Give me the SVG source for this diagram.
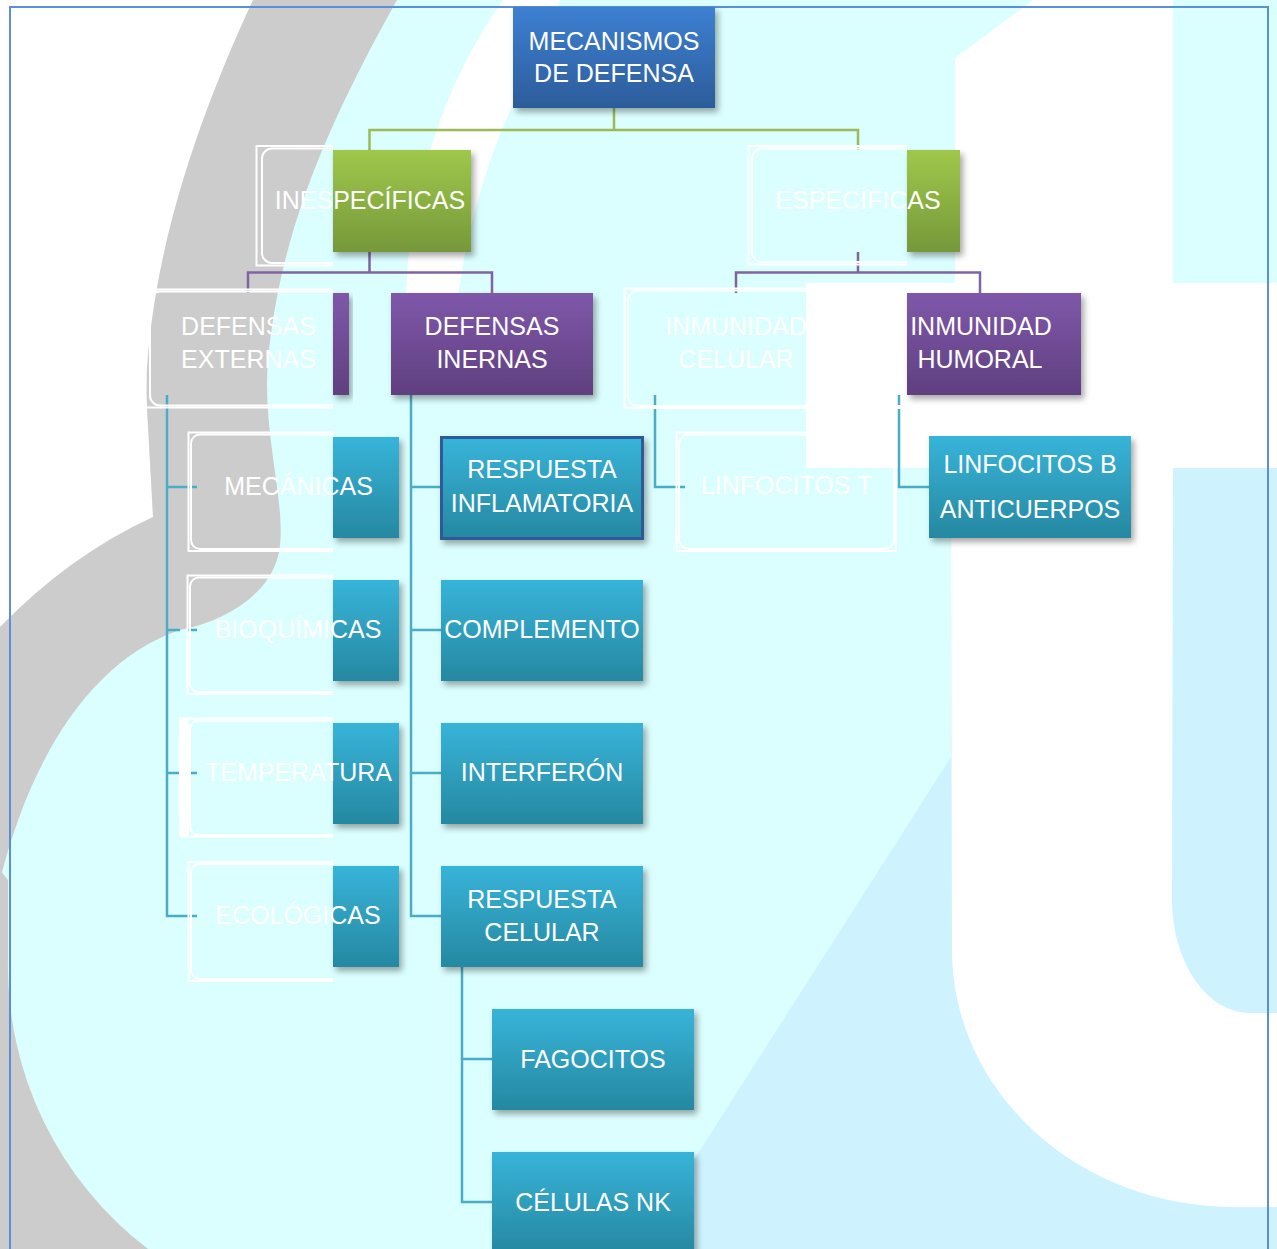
<svg xmlns="http://www.w3.org/2000/svg" width="1277" height="1249" viewBox="0 0 1277 1249">
<style>
.t{font-family:"Liberation Sans",Arial,sans-serif;font-size:25px;fill:#fff;text-anchor:middle}
.gh{fill:none;stroke:#fff;stroke-width:2}
.c{fill:none;stroke-width:2.5}
.cg{stroke:#9BBB59}
.cp{stroke:#8064A2}
.ct{stroke:#4BACC6}
</style>
<defs>
<linearGradient id="gBlue" x1="0" y1="0" x2="0" y2="1"><stop offset="0" stop-color="#3D80D2"/><stop offset="1" stop-color="#2C5C9A"/></linearGradient>
<linearGradient id="gGreen" x1="0" y1="0" x2="0" y2="1"><stop offset="0" stop-color="#9FC84A"/><stop offset="1" stop-color="#76983A"/></linearGradient>
<linearGradient id="gPurple" x1="0" y1="0" x2="0" y2="1"><stop offset="0" stop-color="#7F58AA"/><stop offset="1" stop-color="#603F7F"/></linearGradient>
<linearGradient id="gTeal" x1="0" y1="0" x2="0" y2="1"><stop offset="0" stop-color="#37B4D9"/><stop offset="1" stop-color="#2688A1"/></linearGradient>
<filter id="sh" x="-10%" y="-10%" width="130%" height="130%"><feDropShadow dx="3" dy="4" stdDeviation="3" flood-color="#000" flood-opacity="0.35"/></filter>
</defs>

<g id="background">
<rect width="1277" height="1249" fill="#DBFEFE"/>
<path d="M951,757 L951,468 L1277,468 L1277,1249 L637,1249 Z" fill="#CEF3FE"/>
<path d="M1033,0 L1173,0 L1173,283 L1277,283 L1277,468 L1173,468 L1172,900 A78,113 0 0 0 1250,1013 L1277,1013 L1277,1207 L1234,1207 A282,257 0 0 1 952,950 L951,468 L806,468 L806,283 L955,283 L955,58 Z" fill="#fff"/>
<path d="M0,0 L253,0 C195,125 150,260 146,390 L153,517 Q70,555 0,627 Z" fill="#fff"/>
<path d="M253,0 L397,0 C330,120 280,230 268,360 C262,430 285,500 280,545 C276,590 230,620 180,630 C90,660 30,760 0,880 L0,627 Q70,555 153,517 L146,390 C150,260 195,125 253,0 Z" fill="#CCCCCC"/>
<path d="M0,870 L0,1249 L148,1249 A356,356 0 0 1 8,960 L8,880 Z" fill="#CCCCCC"/>
<path d="M503,0 Q425,110 408,260 L400,392 L455,320 Q468,200 515,100 L560,0 Z" fill="#fff"/>
<rect x="10" y="7" width="1258" height="1262" fill="none" stroke="#5B8FD9" stroke-width="2"/>
</g>

<g id="connectors">
<path class="c cg" d="M614,108 V130 M369.5,150 V130 H858 V150"/>
<path class="c cp" d="M369.5,252 V272.5 M248,293 V272.5 H492 V293"/>
<path class="c cp" d="M858,252 V272.5 M736,293 V272.5 H980 V293"/>
<path class="c ct" d="M167,395 V916 H197 M167,487 H197 M167,630 H180 M188,630 H197 M167,773 H197"/>
<path class="c ct" d="M411,395 V916 H441 M411,487 H441 M411,630 H441 M411,773 H441"/>
<path class="c ct" d="M462,967 V1202 H492 M462,1059 H492"/>
<path class="c ct" d="M655,395 V487 H685"/>
<path class="c ct" d="M899,395 V487 H929"/>
</g>

<g id="n-mecanismos">
<rect x="513" y="7" width="202" height="101" fill="url(#gBlue)" filter="url(#sh)"/>
<text class="t" x="614" y="50">MECANISMOS</text>
<text class="t" x="614" y="82">DE DEFENSA</text>
</g>

<g id="n-inespecificas">
<rect x="333" y="150" width="138" height="102" fill="url(#gGreen)" filter="url(#sh)"/>
<path class="gh" d="M333,146 H256.5 V265.5 H333"/>
<path class="gh" d="M333,148.5 H272 A10,10 0 0 0 262,158.5 V253 A10,10 0 0 0 272,263 H333"/>
<text class="t" x="370" y="209">INESPECÍFICAS</text>
</g>

<g id="n-especificas">
<rect x="907" y="150" width="53" height="102" fill="url(#gGreen)" filter="url(#sh)"/>
<path class="gh" d="M907,146 H748.5 V264.5 H907"/>
<path class="gh" d="M907,148.5 H762 A10,10 0 0 0 752,158.5 V252 A10,10 0 0 0 762,262 H907"/>
<text class="t" x="858" y="209">ESPECÍFICAS</text>
</g>

<g id="n-externas">
<rect x="333" y="293" width="16" height="102" fill="url(#gPurple)" filter="url(#sh)"/>
<path class="gh" d="M333,289.5 H145.5 V407.5 H333"/>
<path class="gh" d="M333,291.5 H160 A10,10 0 0 0 150,301.5 V395.5 A10,10 0 0 0 160,405.5 H333"/>
<text class="t" x="248.5" y="335">DEFENSAS</text>
<text class="t" x="248.5" y="368">EXTERNAS</text>
</g>

<g id="n-internas">
<rect x="391" y="293" width="202" height="102" fill="url(#gPurple)" filter="url(#sh)"/>
<text class="t" x="492" y="335">DEFENSAS</text>
<text class="t" x="492" y="368">INERNAS</text>
</g>

<g id="n-inm-celular">
<path class="gh" d="M907,288.5 H624.5 V408 H907"/>
<path class="gh" d="M907,290.5 H638 A10,10 0 0 0 628,300.5 V396 A10,10 0 0 0 638,406 H907"/>
<text class="t" x="736" y="335">INMUNIDAD</text>
<text class="t" x="736" y="368">CELULAR</text>
</g>

<g id="n-inm-humoral">
<rect x="907" y="293" width="174" height="102" fill="url(#gPurple)" filter="url(#sh)"/>
<text class="t" x="981" y="335">INMUNIDAD</text>
<text class="t" x="980" y="368">HUMORAL</text>
</g>

<g id="n-mecanicas">
<rect x="333" y="437" width="66" height="101" fill="url(#gTeal)" filter="url(#sh)"/>
<path class="gh" d="M333,432.5 H188.5 V551 H333"/>
<path class="gh" d="M333,434.5 H200 A9,9 0 0 0 191,443.5 V540 A9,9 0 0 0 200,549 H333"/>
<text class="t" x="298.5" y="495">MECÁNICAS</text>
</g>

<g id="n-bioquimicas">
<rect x="333" y="580" width="66" height="101" fill="url(#gTeal)" filter="url(#sh)"/>
<path class="gh" d="M333,575.5 H187.5 V694 H333"/>
<path class="gh" d="M333,577.5 H199 A9,9 0 0 0 190,586.5 V683 A9,9 0 0 0 199,692 H333"/>
<text class="t" x="298" y="638">BIOQUÍMICAS</text>
</g>

<g id="n-temperatura">
<rect x="333" y="723" width="66" height="101" fill="url(#gTeal)" filter="url(#sh)"/>
<rect x="179" y="718" width="10" height="119" fill="#fff"/>
<path class="gh" d="M333,718.5 H179 M179,836.5 H333"/>
<path class="gh" d="M333,720.5 H199 A9,9 0 0 0 190,729.5 V826 A9,9 0 0 0 199,835 H333"/>
<text class="t" x="298.5" y="781">TEMPERATURA</text>
</g>

<g id="n-ecologicas">
<rect x="333" y="866" width="66" height="101" fill="url(#gTeal)" filter="url(#sh)"/>
<path class="gh" d="M333,862 H188.5 V981 H333"/>
<path class="gh" d="M333,864 H200 A9,9 0 0 0 191,873 V970 A9,9 0 0 0 200,979 H333"/>
<text class="t" x="298" y="924">ECOLÓGICAS</text>
</g>

<g id="n-inflamatoria">
<rect x="441.5" y="437.5" width="201" height="101" fill="url(#gTeal)" stroke="#2F5A97" stroke-width="3" filter="url(#sh)"/>
<text class="t" x="542" y="478">RESPUESTA</text>
<text class="t" x="542" y="512">INFLAMATORIA</text>
</g>

<g id="n-complemento">
<rect x="441" y="580" width="202" height="101" fill="url(#gTeal)" filter="url(#sh)"/>
<text class="t" x="542" y="638">COMPLEMENTO</text>
</g>

<g id="n-interferon">
<rect x="441" y="723" width="202" height="101" fill="url(#gTeal)" filter="url(#sh)"/>
<text class="t" x="542" y="781">INTERFERÓN</text>
</g>

<g id="n-resp-celular">
<rect x="441" y="866" width="202" height="101" fill="url(#gTeal)" filter="url(#sh)"/>
<text class="t" x="542" y="908">RESPUESTA</text>
<text class="t" x="542" y="941">CELULAR</text>
</g>

<g id="n-fagocitos">
<rect x="492" y="1009" width="202" height="101" fill="url(#gTeal)" filter="url(#sh)"/>
<text class="t" x="593" y="1068">FAGOCITOS</text>
</g>

<g id="n-nk">
<rect x="492" y="1152" width="202" height="101" fill="url(#gTeal)" filter="url(#sh)"/>
<text class="t" x="593" y="1211">CÉLULAS NK</text>
</g>

<g id="n-linfocitos-t">
<rect class="gh" x="676.5" y="432.5" width="219.5" height="118.5"/>
<rect class="gh" x="679" y="434.5" width="215" height="114.5" rx="10"/>
<text class="t" x="786.5" y="494">LINFOCITOS T</text>
</g>

<g id="n-linfocitos-b">
<rect x="929" y="436" width="202" height="102" fill="url(#gTeal)" filter="url(#sh)"/>
<text class="t" x="1030" y="473">LINFOCITOS B</text>
<text class="t" x="1030" y="518">ANTICUERPOS</text>
</g>
</svg>
